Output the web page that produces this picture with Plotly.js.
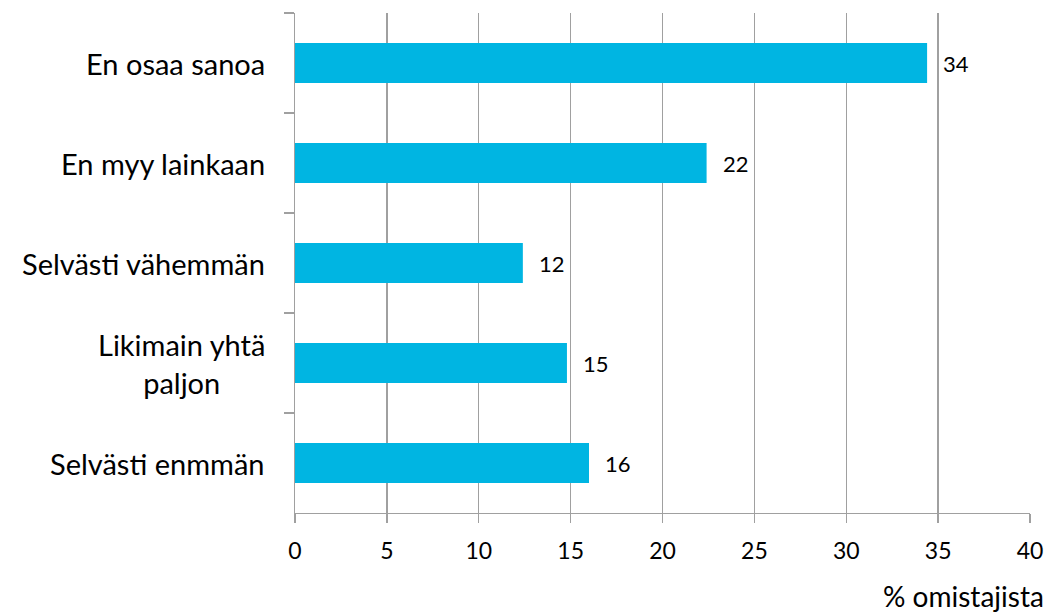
<!DOCTYPE html>
<html>
<head>
<meta charset="utf-8">
<script src="https://cdn.plot.ly/plotly-3.0.1.min.js"></script>
<style>html,body{margin:0;padding:0;background:#fff;}#chart{width:1049px;height:616px;}</style>
</head>
<body>
<div id="chart"></div>
<script>
var categories = ["En osaa sanoa", "En myy lainkaan", "Selvästi vähemmän", "Likimain yhtä<br>paljon", "Selvästi enmmän"];
var values = [34.4, 22.4, 12.4, 14.8, 16.0];
var labels = ["34", "22", "12", "15", "16"];
var xTicks = [0, 5, 10, 15, 20, 25, 30, 35, 40];
var xTitle = "% omistajista";

var font = "Lato, 'Open Sans', 'Noto Sans', sans-serif";

var trace = {
  type: "bar",
  orientation: "h",
  y: categories,
  x: values,
  marker: {color: "#00B5E2"},
  hoverinfo: "none"
};

var annotations = categories.map(function (c) {
  return {
    xref: "paper", yref: "y", x: 0, y: c, xanchor: "right", yanchor: "middle",
    xshift: -28, text: c, showarrow: false, align: "center",
    font: {family: font, size: 29, color: "#000"}
  };
});
categories.forEach(function (c, i) {
  annotations.push({
    xref: "x", yref: "y", x: values[i], y: c, xanchor: "left", yanchor: "middle",
    xshift: 14, text: labels[i], showarrow: false,
    font: {family: font, size: 22, color: "#000"}
  });
});
annotations.push({
  xref: "paper", yref: "paper", x: 1, y: 0, xanchor: "right", yanchor: "middle",
  xshift: 16, yshift: -83, text: xTitle, showarrow: false,
  font: {family: font, size: 28, color: "#000"}
});

var layout = {
  width: 1049, height: 616,
  margin: {l: 295, r: 19, t: 13, b: 103},
  paper_bgcolor: "#fff", plot_bgcolor: "#fff",
  showlegend: false,
  bargap: 0.6,
  xaxis: {
    range: [0, 40], tickvals: xTicks, ticktext: xTicks.map(String),
    showgrid: true, gridcolor: "#a0a0a0", gridwidth: 1.3,
    zeroline: false, showline: true, linecolor: "#a0a0a0", linewidth: 1.3,
    ticks: "outside", ticklen: 9, tickcolor: "#a0a0a0", tickwidth: 1.3,
    ticklabelstandoff: 8,
    tickfont: {family: font, size: 23, color: "#000"},
    fixedrange: true
  },
  yaxis: {
    type: "category", autorange: "reversed",
    showticklabels: false, showgrid: false, zeroline: false,
    showline: true, linecolor: "#a0a0a0", linewidth: 1.3,
    ticks: "outside", tickson: "boundaries", ticklen: 10, tickcolor: "#a0a0a0", tickwidth: 1.3,
    fixedrange: true
  },
  annotations: annotations
};

Plotly.newPlot("chart", [trace], layout, {displayModeBar: false, staticPlot: true});
</script>
</body>
</html>
